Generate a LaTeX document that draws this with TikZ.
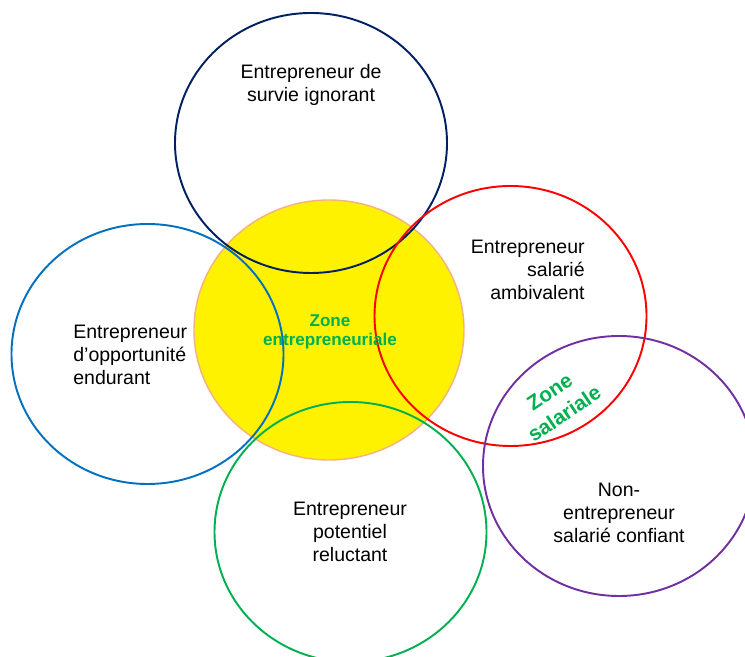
\documentclass[tikz,border=0pt]{standalone}
\usepackage{fontspec}
\setmainfont{Liberation Sans}
\usepackage{xcolor}
\usetikzlibrary{shapes.geometric}
\usetikzlibrary{positioning}

\definecolor{navyline}{RGB}{0,32,96}
\definecolor{blueline}{RGB}{0,112,192}
\definecolor{redline}{RGB}{255,0,0}
\definecolor{greenline}{RGB}{0,176,80}
\definecolor{purpleline}{RGB}{112,48,160}
\definecolor{peach}{RGB}{244,177,131}

\tikzset{
    group/.style={draw, ellipse, line width=1.1pt, minimum width=5.44cm, minimum height=5.2cm, inner sep=0pt},
    label/.style={font=\fontsize{11.1}{13.3}\selectfont, inner sep=0pt},
    zonetext/.style={font=\fontsize{9.7}{10.9}\selectfont\bfseries, text=greenline, inner sep=0pt, align=center}
}

\begin{document}
\begin{tikzpicture}
        \useasboundingbox (0,0) rectangle (14.9,13.14);
        \clip (0,0) rectangle (14.9,13.14);
        % central zone
        \node[ellipse, fill=yellow, draw=peach, line width=0.8pt, minimum width=5.4cm, minimum height=5.2cm] (centre) at (6.58,6.54) {};
        % circles
        \node[group, draw=navyline] (survie) at (6.22,10.28) {};
        \node[group, draw=blueline] (opportunite) at (2.95,6.06) {};
        \node[group, draw=redline] (ambivalent) at (10.21,6.82) {};
        \node[group, draw=greenline] (potentiel) at (7.01,2.50) {};
        \node[group, draw=purpleline] (confiant) at (12.38,3.82) {};
        % labels
        \node[label, align=center] (survietext) at (6.22,11.44) {Entrepreneur de\\survie ignorant};
        \node[label, align=left, anchor=west] (opportunitetext) at (1.46,6.04) {Entrepreneur\\d’opportunité\\endurant};
        \node[label, align=right, anchor=east] (ambivalenttext) at (11.70,7.74) {Entrepreneur\\salarié\\ambivalent};
        \node[label, align=center] (potentieltext) at (7.00,2.50) {Entrepreneur\\potentiel\\reluctant};
        \node[label, align=center] (confianttext) at (12.38,2.88) {Non-\\entrepreneur\\salarié confiant};
        % zones
        \node[zonetext] (zoneentr) at (6.60,6.50) {Zone\\entrepreneuriale};
        \node[zonetext, font=\fontsize{11.8}{15}\selectfont\bfseries, rotate=34] (zonesal) at (11.14,5.08) {Zone\\salariale};
\end{tikzpicture}
\end{document}
